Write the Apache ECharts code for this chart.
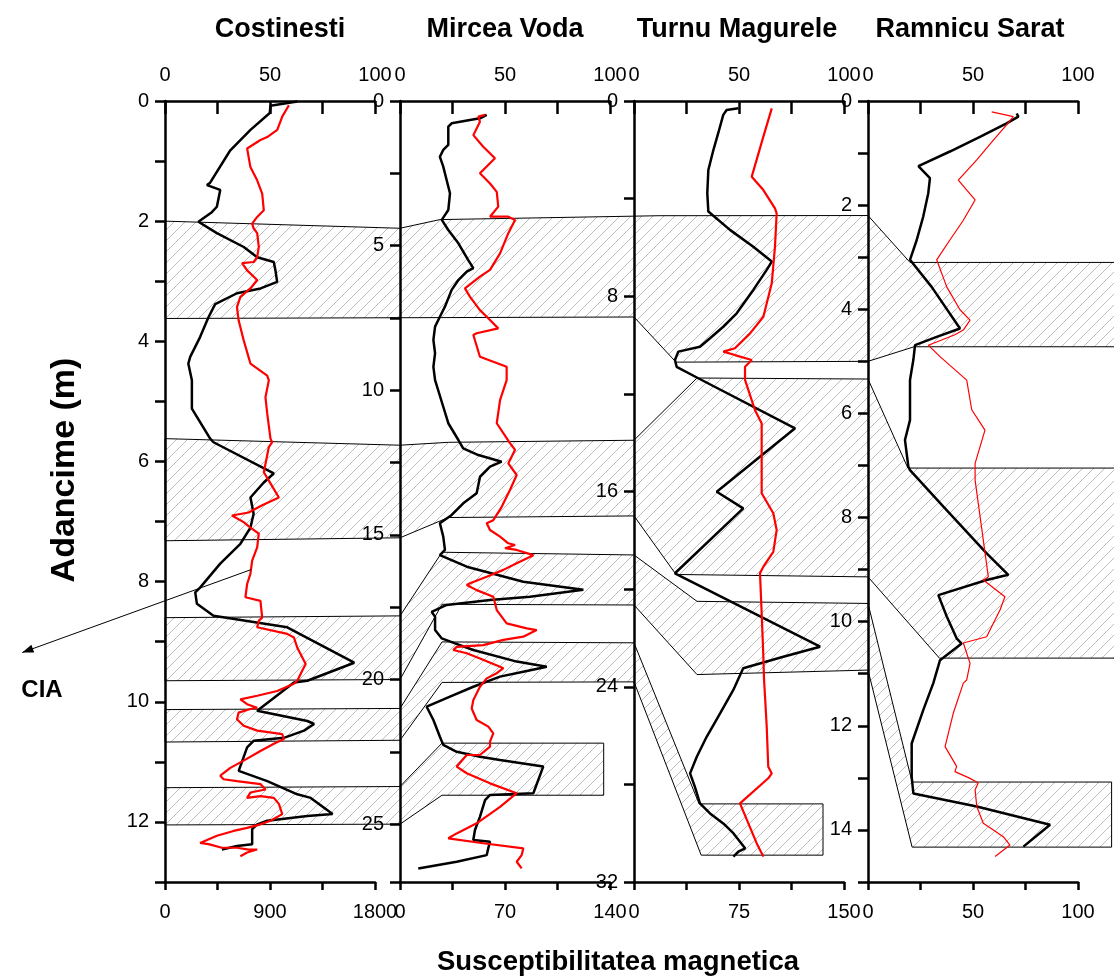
<!DOCTYPE html>
<html>
<head>
<meta charset="utf-8">
<script src="https://cdn.jsdelivr.net/npm/echarts@6/dist/echarts.min.js"></script>
<style>
  html, body { margin: 0; background: #fff; }
  #chart { width: 1114px; height: 980px; }
</style>
</head>
<body>
<div id="chart"></div>
<script>
// Profile CIA (negru, axa de sus) si susceptibilitate magnetica (rosu, axa de jos) pe adancime
const sites = ["Costinesti", "Mircea Voda", "Turnu Magurele", "Ramnicu Sarat"];
const depthMax = [13, 27, 32, 15];
const depthTick = [1, 2.5, 4, 1];
const depthLabelStep = [2, 5, 8, 2];
const ciaMax = 100;
const suscMax = [1800, 140, 150, 100];

// [CIA, adancime]
const ciaCostinesti = [[63,0.01],[50.2,0.08],[49.9,0.2],[40.7,0.48],[31.1,0.82],[21.5,1.36],[20,1.4],[26.3,1.48],[24.7,1.76],[22.3,1.85],[15.9,2.01],[24.7,2.2],[37.5,2.43],[43.9,2.6],[51.8,2.68],[52.6,2.82],[53.4,3.01],[45.5,3.12],[34.3,3.2],[23.9,3.38],[20.7,3.6],[16.7,3.93],[12,4.26],[11.1,4.37],[12.8,4.65],[12.8,5.12],[21.5,5.62],[23.1,5.68],[51.8,6.2],[47,6.35],[40.7,6.6],[42.2,6.87],[40.7,7.1],[35.9,7.37],[26.3,7.7],[16.7,8.1],[14.4,8.18],[15.2,8.37],[23.1,8.57],[58.2,8.76],[90.1,9.35],[67.8,9.65],[61.4,9.68],[43.9,10.15],[67.8,10.32],[71,10.37],[66.2,10.48],[56.6,10.6],[42.2,10.65],[39.1,10.76],[35.1,11.15],[48.7,11.32],[63,11.54],[69.4,11.6],[79.8,11.87],[67.8,11.9],[48.7,11.98],[43.9,12.04],[41.5,12.12],[41.5,12.37],[34.3,12.4],[27.1,12.46]];
const ciaMirceaVoda = [[41.3,0.48],[38.1,0.6],[33.3,0.66],[24.6,0.77],[23,0.89],[23,1.52],[20.6,1.69],[19,1.93],[20.6,2.27],[22.2,2.73],[23.8,3.19],[23,3.77],[19.9,4.11],[23,4.46],[27.8,4.92],[32.5,5.5],[34.9,5.78],[31.8,5.9],[27.8,6.19],[24.6,6.53],[21.4,7.11],[19,7.46],[16.7,7.8],[15.9,8.26],[16.7,8.72],[15.9,9.19],[16.7,9.65],[20.6,10.57],[23,11.14],[27.8,11.72],[30.1,12.01],[37.3,12.24],[48.4,12.47],[42.9,12.64],[38.1,12.99],[36.5,13.56],[30.1,13.91],[24.6,14.31],[19,14.6],[20.6,15.06],[21.4,15.52],[19,15.7],[31.8,16.1],[58.7,16.62],[87.3,16.9],[61.9,17.14],[42.9,17.25],[22.2,17.42],[15.1,17.66],[16.7,17.83],[16.7,18.29],[19.9,18.58],[26.2,18.75],[34.9,18.98],[55.6,19.38],[69.9,19.56],[58.7,19.73],[47.6,19.9],[34.9,20.25],[23.8,20.59],[12.7,20.94],[15.9,21.4],[19,21.98],[20.6,22.26],[27,22.5],[38.1,22.67],[47.6,22.78],[68.2,23.01],[63.5,23.93],[42.9,23.99],[40.5,24.17],[38.1,24.74],[35.7,25.2],[34.9,25.55],[42.9,25.61],[42,25.84],[41.3,26.07],[27,26.3],[8.7,26.53]];
const ciaTurnuMagurele = [[49.7,0.3],[44.1,0.37],[42.5,0.57],[40.1,1.32],[37.8,2.01],[35.4,2.83],[34.9,3.78],[35.4,4.53],[36.2,4.6],[45.7,5.28],[56.8,5.97],[65.6,6.58],[63.2,6.92],[56.8,7.74],[48.9,8.7],[42.5,9.25],[36.2,9.72],[31.4,10.07],[21.1,10.27],[19.5,10.61],[20.3,10.89],[30.6,11.36],[76.7,13.41],[39.4,16.01],[52,16.69],[19.5,19.35],[88.6,22.36],[71.1,22.77],[52,23.24],[51.3,23.31],[47.3,24.13],[41,25.09],[34.6,26.05],[29.9,26.87],[26.7,27.55],[29,28.1],[31.4,28.78],[36.2,29.19],[42.5,29.6],[47.3,30],[52.9,30.62],[49.7,30.76],[47.3,30.96]];
const ciaRamnicuSarat = [[70.8,0.24],[71.6,0.3],[66,0.43],[53.3,0.69],[39,0.97],[24,1.25],[29.5,1.48],[28.7,1.77],[26.3,2.22],[23.2,2.67],[20,3.05],[30.3,3.57],[43.8,4.37],[32.7,4.53],[22.4,4.69],[21.6,4.97],[20,5.36],[20,6.13],[17.6,6.51],[19.2,7.02],[20,7.09],[35.9,7.79],[56.5,8.69],[66.8,9.1],[56.5,9.2],[33.5,9.49],[37.5,9.9],[42.2,10.32],[44.6,10.42],[34.3,10.74],[31.1,11.18],[26.3,11.7],[20.8,12.34],[20.8,12.98],[21.6,13.3],[51.8,13.55],[86.7,13.9],[74,14.32]];

// [susceptibilitate, adancime]
const suscCostinesti = [[1062,0.07],[1005,0.26],[962,0.48],[876,0.6],[818,0.65],[704,0.79],[732,1.1],[790,1.32],[833,1.54],[847,1.82],[790,1.93],[747,2.04],[760,2.12],[790,2.2],[804,2.43],[790,2.6],[760,2.68],[661,2.7],[704,2.82],[790,2.98],[732,3.12],[646,3.26],[617,3.43],[631,3.65],[674,3.98],[732,4.37],[876,4.57],[890,4.65],[861,4.93],[876,5.2],[904,5.62],[919,5.68],[890,5.76],[847,6.18],[890,6.32],[976,6.6],[833,6.73],[717,6.85],[574,6.9],[674,7.01],[732,7.1],[804,7.2],[790,7.43],[747,7.65],[732,7.87],[704,8.04],[689,8.26],[818,8.32],[833,8.6],[804,8.65],[790,8.76],[1048,8.87],[1105,8.93],[1134,9.1],[1206,9.37],[1177,9.48],[1134,9.65],[1105,9.7],[962,9.82],[790,9.9],[646,9.96],[704,10.04],[790,10.1],[732,10.12],[631,10.18],[617,10.29],[674,10.4],[790,10.48],[1005,10.54],[1019,10.62],[933,10.7],[818,10.82],[674,10.98],[560,11.1],[474,11.23],[502,11.29],[617,11.32],[818,11.37],[861,11.46],[732,11.51],[704,11.6],[818,11.57],[933,11.6],[976,11.7],[1005,11.87],[904,11.98],[818,12.04],[704,12.1],[588,12.15],[445,12.23],[301,12.35],[373,12.37],[488,12.43],[617,12.43],[717,12.46],[790,12.46],[704,12.51],[646,12.57]];
const suscMirceaVoda = [[56.7,0.48],[52.2,0.54],[53.3,0.72],[48.9,1.18],[55.5,1.58],[63.3,1.98],[53.3,2.5],[60,2.85],[64.5,3.14],[65.5,3.65],[60,4],[72.2,4],[76.7,4.11],[72.2,4.57],[66.7,5.27],[60,5.84],[53.3,6.07],[43.3,6.48],[46.7,6.77],[53.3,7.23],[60,7.57],[65.5,7.86],[51.1,8.03],[48.9,8.09],[53.3,8.84],[71.1,9.19],[71.1,9.65],[66.7,10.34],[64.5,11.14],[73.3,11.83],[76.7,12.06],[72.2,12.53],[77.8,12.93],[73.3,13.45],[67.8,14.03],[62.2,14.49],[57.8,14.6],[60,14.83],[66.7,15.06],[72.2,15.29],[76.7,15.35],[70,15.46],[77.8,15.52],[88.9,15.7],[77.8,15.98],[68.9,16.21],[57.8,16.45],[46.7,16.67],[44.5,16.73],[51.1,16.91],[62.2,17.14],[64.5,17.6],[71.1,18.06],[84.5,18.23],[91.1,18.29],[82.2,18.52],[68.9,18.63],[55.5,18.81],[37.8,18.87],[35.5,18.98],[44.5,19.09],[53.3,19.27],[66.7,19.56],[68.9,19.61],[64.5,19.78],[57.8,19.96],[53.3,20.25],[48.9,20.71],[47.8,21],[51.1,21.4],[58.9,21.63],[62.2,21.86],[60,22.15],[60,22.32],[53.3,22.61],[44.5,22.61],[37.8,23.01],[44.5,23.24],[60,23.59],[77.8,23.93],[66.7,24.4],[51.1,24.97],[37.8,25.32],[32.2,25.49],[55.5,25.66],[82.2,25.84],[81.1,26.07],[77.8,26.3],[81.1,26.53]];
const suscTurnuMagurele = [[98.4,0.3],[92.4,1.46],[84.1,3.1],[92.4,3.65],[100.7,4.4],[101.9,4.6],[100.7,5.97],[98.4,7.47],[92.4,8.84],[82.9,9.52],[72.1,10.13],[63.8,10.27],[72.1,10.41],[84.1,10.61],[79.3,10.89],[79.3,11.43],[86.4,12.66],[91.2,13.21],[91.2,16.07],[99.5,16.89],[101.9,17.58],[99.5,18.47],[92.4,19.08],[90,19.35],[91.2,20.99],[92.4,22.77],[92.9,23.72],[93.6,24.41],[94.8,25.64],[95.9,27.28],[98.4,27.55],[95.9,27.75],[75.7,28.78],[87.6,30.41],[92.4,30.96]];
const suscRamnicuSarat = [[58.9,0.21],[66,0.27],[69.2,0.3],[66,0.46],[59.7,0.75],[51.8,1.13],[43,1.52],[51,1.9],[45.4,2.29],[39,2.67],[32.7,3.05],[37.5,3.57],[43.8,4.01],[48.6,4.21],[45.4,4.4],[41.4,4.49],[28.7,4.69],[34.3,4.91],[47,5.36],[49.4,5.93],[55.7,6.32],[51,6.96],[51,7.28],[57.3,9.14],[54.9,9.2],[65.2,9.52],[62.9,9.77],[56.5,10.29],[45.4,10.41],[48.6,10.8],[47,11.12],[45.4,11.18],[40.6,11.76],[36.7,12.4],[42.2,12.78],[41.4,12.88],[48.6,13.01],[52.5,13.1],[51,13.23],[51.8,13.55],[54.9,13.87],[59.7,14],[64.4,14.13],[67.6,14.29],[64.4,14.39],[60.5,14.51]];

// zone corelate (hasurate): varfuri [profil, CIA, adancime]
const zone1 = [[0,0,2.0],[1,0,4.4],[1,19,4.1],[2,12,4.7],[3,0,2.2],[3,20,3.1],[3,125,3.1],[3,125,4.72],[3,22,4.72],[3,0,5.0],[2,20,10.7],[2,0,8.85],[0,0,3.62]];
const zone2 = [[0,0,5.62],[1,0,11.9],[1,23,11.8],[2,0,13.9],[2,30,11.35],[3,0,5.34],[3,19,7.05],[3,125,7.05],[3,125,10.7],[3,34,10.7],[3,0,9.14],[2,20,19.4],[2,0,17.0],[1,23,14.4],[1,0,15.1],[0,0,7.32]];
const zone3 = [[0,0,8.6],[1,0,17.8],[1,20,15.6],[2,0,18.6],[2,30,20.5],[3,0,9.65],[3,21,13.08],[3,116,13.08],[3,116,14.33],[3,21,14.33],[3,0,10.93],[2,30,23.5],[2,0,20.65],[1,20,17.4],[1,0,20.0],[0,0,9.65]];
const zone4 = [[0,0,10.13],[1,0,21.0],[1,20,18.7],[2,0,22.2],[2,31,28.8],[2,90,28.8],[2,90,30.9],[2,32,30.9],[2,0,23.8],[1,20,20.1],[1,0,22.1],[0,0,10.67]];
const zone5 = [[0,0,11.43],[1,0,23.7],[1,20,22.2],[1,97,22.2],[1,97,24.0],[1,20,24.0],[1,0,25.0],[0,0,12.05]];
const zones = [zone1, zone2, zone3, zone4, zone5];

// sageata CIA: [profil, CIA, adancime] de la -> la
const ciaArrow = [[0, 41, 7.8], [0, -68, 9.18]];

const ciaData = [ciaCostinesti, ciaMirceaVoda, ciaTurnuMagurele, ciaRamnicuSarat];
const suscData = [suscCostinesti, suscMirceaVoda, suscTurnuMagurele, suscRamnicuSarat];

const FONT = "Liberation Sans, Arial, sans-serif";
const gridLeft = [165, 400, 634, 868];
const titleX = [280, 505, 737, 970];

const chart = echarts.init(document.getElementById("chart"), null, { renderer: "canvas" });

const axLine = { onZero: false, lineStyle: { color: "#000", width: 2.5 } };
const lbl = { color: "#000", fontSize: 20, fontFamily: FONT };

const grid = [], xAxis = [], yAxis = [], series = [];
for (let p = 0; p < 4; p++) {
  grid.push({ left: gridLeft[p], top: 101, width: 210, height: 781, containLabel: false });
  xAxis.push({
    gridIndex: p, type: "value", position: "top", min: 0, max: ciaMax, interval: 25,
    axisLine: axLine, splitLine: { show: false },
    axisTick: { inside: true, length: 13, lineStyle: { color: "#000", width: 2.5 } },
    axisLabel: Object.assign({ margin: 16, formatter: v => (v % 50 === 0 ? String(v) : "") }, lbl),
  });
  const sm = suscMax[p];
  xAxis.push({
    gridIndex: p, type: "value", position: "bottom", min: 0, max: sm, interval: sm / 4,
    axisLine: axLine, splitLine: { show: false },
    axisTick: { inside: false, length: 8, lineStyle: { color: "#000", width: 2.5 } },
    axisLabel: Object.assign({ margin: 20, formatter: v => (v % (sm / 2) === 0 ? String(v) : "") }, lbl),
  });
  const ls = depthLabelStep[p];
  yAxis.push({
    gridIndex: p, type: "value", inverse: true, min: 0, max: depthMax[p], interval: depthTick[p],
    axisLine: axLine, splitLine: { show: false },
    axisTick: { inside: false, length: 10, lineStyle: { color: "#000", width: 2.5 } },
    axisLabel: Object.assign({ margin: 16, formatter: v => (v % ls === 0 ? String(v) : "") }, lbl),
  });
  series.push({
    type: "line", xAxisIndex: 2 * p, yAxisIndex: p, data: ciaData[p], showSymbol: false,
    lineStyle: { color: "#000", width: 2.5 }, z: 5, animation: false,
  });
  series.push({
    type: "line", xAxisIndex: 2 * p + 1, yAxisIndex: p, data: suscData[p], showSymbol: false,
    lineStyle: { color: "#ff0000", width: p === 3 ? 1.2 : 2.2 }, z: 5, animation: false,
  });
}

chart.setOption({ animation: false, grid, xAxis, yAxis, series });

// hasura
const pc = document.createElement("canvas");
pc.width = 11; pc.height = 11;
const cx = pc.getContext("2d");
cx.strokeStyle = "#bdbdbd"; cx.lineWidth = 1;
for (const o of [-11, 0, 11]) { cx.beginPath(); cx.moveTo(o, 11); cx.lineTo(o + 11, 0); cx.stroke(); }
const hatch = { image: pc, repeat: "repeat" };

const toPx = v => chart.convertToPixel({ xAxisIndex: 2 * v[0], yAxisIndex: v[0] }, [v[1], v[2]]);

const elems = zones.map(z => ({
  type: "polygon", silent: true, z: -1,
  shape: { points: z.map(toPx) },
  style: { fill: hatch, stroke: "#000", lineWidth: 1 },
}));

const a0 = toPx(ciaArrow[0]), a1 = toPx(ciaArrow[1]);
const ang = Math.atan2(a1[1] - a0[1], a1[0] - a0[0]);
const head = [a1,
  [a1[0] - 12 * Math.cos(ang - 0.35), a1[1] - 12 * Math.sin(ang - 0.35)],
  [a1[0] - 12 * Math.cos(ang + 0.35), a1[1] - 12 * Math.sin(ang + 0.35)]];
elems.push({ type: "line", silent: true, z: 6, shape: { x1: a0[0], y1: a0[1], x2: a1[0], y2: a1[1] }, style: { stroke: "#000", lineWidth: 1 } });
elems.push({ type: "polygon", silent: true, z: 6, shape: { points: head }, style: { fill: "#000" } });

const txt = (x, y, s, size, rot) => ({
  type: "text", x, y, rotation: rot || 0, silent: true, z: 6,
  style: { text: s, fontSize: size, fontWeight: "bold", fontFamily: FONT, fill: "#000", textAlign: "center", textVerticalAlign: "middle" },
});
sites.forEach((s, i) => elems.push(txt(titleX[i], 30, s, 27)));
elems.push(txt(618, 962, "Susceptibilitatea magnetica", 27.5));
elems.push(txt(65, 470, "Adancime (m)", 34, Math.PI / 2));
elems.push(txt(42, 690, "CIA", 24));

chart.setOption({ graphic: { elements: elems } });
</script>
</body>
</html>
